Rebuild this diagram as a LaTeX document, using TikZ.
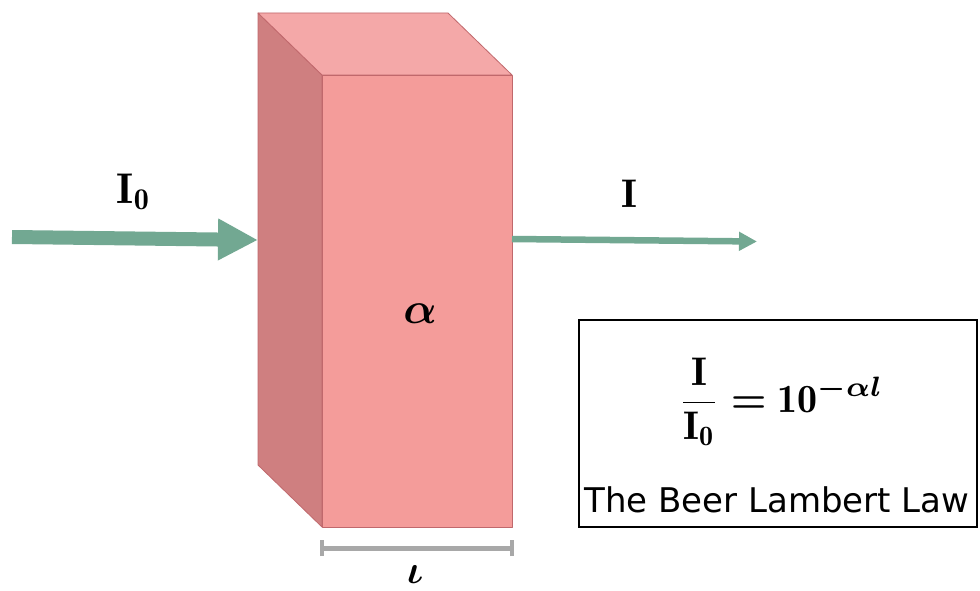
\documentclass[tikz,border=0pt]{standalone}
\usepackage{fontspec}
\usepackage{amsmath,bm}
\usetikzlibrary{arrows.meta}
\newfontfamily\capfont{DejaVu Sans}
\definecolor{frontc}{HTML}{F49C9A}
\definecolor{leftc}{HTML}{CF7F80}
\definecolor{topc}{HTML}{F4A8A8}
\definecolor{edgec}{HTML}{C0686C}
\definecolor{beamc}{HTML}{72A892}
\definecolor{barc}{HTML}{A8A8A8}
\tikzset{
  face/.style={draw=edgec, line width=0.8pt, line join=round},
  beam/.style={draw=beamc},
  mathlbl/.style={inner sep=0pt, anchor=base},
  lawbox/.style={draw=black, line width=1.4pt, fill=white},
  scalebar/.style={draw=barc, line width=5pt},
  scaletick/.style={draw=barc, line width=4pt},
}
\begin{document}
\begin{tikzpicture}[x=1pt,y=-1pt]
\useasboundingbox[fill=white] (0,0) rectangle (980,591);
% slab
\coordinate (bTL) at (258,13);
\coordinate (bTR) at (448,13);
\coordinate (fTL) at (322,75);
\coordinate (fTR) at (512,75);
\coordinate (fBL) at (322,527);
\coordinate (fBR) at (512,527);
\coordinate (bBL) at (258,465);
\path[face, fill=leftc] (bTL) -- (fTL) -- (fBL) -- (bBL) -- cycle;
\path[face, fill=topc] (bTL) -- (bTR) -- (fTR) -- (fTL) -- cycle;
\path[face, fill=frontc] (fTL) -- (fTR) -- (fBR) -- (fBL) -- cycle;
% beams
\coordinate (inStart) at (12,237);
\coordinate (inEnd) at (258,240);
\coordinate (outStart) at (512,239);
\coordinate (outEnd) at (757,241.5);
\draw[beam, line width=14pt, -{Triangle[length=40pt,width=39pt]}] (inStart) -- (inEnd);
\draw[beam, line width=6.5pt, -{Triangle[length=18pt,width=18pt]}] (outStart) -- (outEnd);
% labels
\node[mathlbl] (lblIzero) at (134,203) {\scalebox{4.3}{$\mathbf{I}_{\mathbf{0}}$}};
\node[mathlbl] (lblI) at (629,207) {\scalebox{4.0}{$\mathbf{I}$}};
\node[mathlbl] (lblalpha) at (420,323) {\scalebox{4.4}{$\bm{\alpha}$}};
% thickness bar
\coordinate (sL) at (322,548);
\coordinate (sR) at (512,548);
\draw[scalebar] (sL) -- (sR);
\draw[scaletick] ([yshift=-8pt]sL) -- ([yshift=8pt]sL);
\draw[scaletick] ([yshift=-8pt]sR) -- ([yshift=8pt]sR);
\node[mathlbl] (lbll) at (415,583) {\scalebox{4.0}{$\bm{\iota}$}};
% law box
\node[lawbox, minimum width=398pt, minimum height=207pt, inner sep=0pt] (law) at (778,423.5) {};
\node[inner sep=0pt] (formula) at (781,402) {\scalebox{4.0}{$\dfrac{\mathbf{I}}{\mathbf{I}_{\mathbf{0}}}\bm{=}\mathbf{10}^{\bm{-\alpha l}}$}};
\node[inner sep=0pt, anchor=base] (caption) at (777,512) {\capfont\fontsize{34}{40}\selectfont The Beer Lambert Law};
\end{tikzpicture}
\end{document}
